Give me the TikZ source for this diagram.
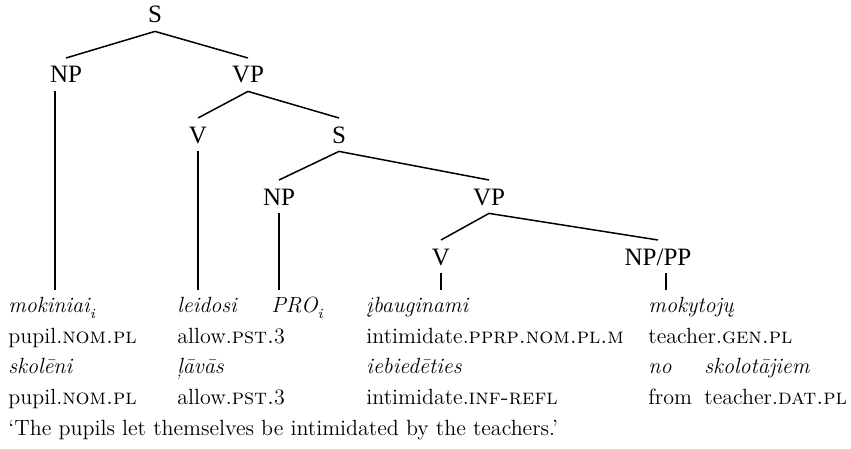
\documentclass[tikz,border=0pt]{standalone}
\usepackage{fontspec}
\newfontfamily\treefont{Liberation Serif}
\usetikzlibrary{positioning}

\newcommand{\coidx}{\raisebox{-3pt}{\fontsize{7}{8}\selectfont\itshape i}}

\begin{document}
\begin{tikzpicture}[
    x=0.5pt, y=-0.5pt,
    % Define styles
    cat/.style={anchor=base, font=\treefont\fontsize{12.5}{14}\selectfont, text height=8.3pt, text depth=0pt, inner sep=4pt},
    leaf/.style={anchor=base west, font=\fontsize{11}{13}\selectfont\itshape, text height=8pt, text depth=0pt, inner xsep=0pt, inner ysep=3pt},
    gloss/.style={anchor=base west, font=\fontsize{11}{13}\selectfont, inner sep=0pt},
    branch/.style={black, line width=0.75pt}
]
\useasboundingbox (0,0) rectangle (851,449);

% Tree nodes
\node[cat] (s1) at (155,23) {S};
\node[cat] (np1) at (66,83) {NP};
\node[cat] (vp1) at (248,83) {VP};
\node[cat] (v1) at (198,143) {V};
\node[cat] (s2) at (339,143) {S};
\node[cat] (np2) at (279,205) {NP};
\node[cat] (vp2) at (489,205) {VP};
\node[cat] (v2) at (441,265) {V};
\node[cat] (nppp) at (658,265) {NP/PP};

% Leaves (Lithuanian)
\node[leaf] (mok) at (8,312) {mokiniai\coidx};
\node[leaf] (lei) at (177,312) {leidosi};
\node[leaf] (pro) at (271,312) {PRO\coidx};
\node[leaf] (ibau) at (366,312) {įbauginami};
\node[leaf] (mokyt) at (648,312) {mokytojų};

% Glosses
\node[gloss] (g1a) at (8,343) {pupil.\textsc{nom.pl}};
\node[gloss] (g1b) at (177,343) {allow.\textsc{pst.}\oldstylenums{3}};
\node[gloss] (g1c) at (366,343) {intimidate.\textsc{pprp.nom.pl.m}};
\node[gloss] (g1d) at (648,343) {teacher.\textsc{gen.pl}};

% Latvian line
\node[gloss] (lv1) at (8,373) {\textit{skolēni}};
\node[gloss] (lv2) at (177,373) {\textit{ļāvās}};
\node[gloss] (lv3) at (366,373) {\textit{iebiedēties}};
\node[gloss] (lv4) at (648,373) {\textit{no}};
\node[gloss] (lv5) at (704,373) {\textit{skolotājiem}};

\node[gloss] (g2a) at (8,404) {pupil.\textsc{nom.pl}};
\node[gloss] (g2b) at (177,404) {allow.\textsc{pst.}\oldstylenums{3}};
\node[gloss] (g2c) at (366,404) {intimidate.\textsc{inf-refl}};
\node[gloss] (g2d) at (648,404) {from};
\node[gloss] (g2e) at (704,404) {teacher.\textsc{dat.pl}};

% Translation
\node[gloss] (trans) at (8,435) {‘The pupils let themselves be intimidated by the teachers.’};

% Branches
\draw[branch] (s1.south) -- (np1.north);
\draw[branch] (s1.south) -- (vp1.north);
\draw[branch] (vp1.south) -- (v1.north);
\draw[branch] (vp1.south) -- (s2.north);
\draw[branch] (s2.south) -- (np2.north);
\draw[branch] (s2.south) -- (vp2.north);
\draw[branch] (vp2.south) -- (v2.north);
\draw[branch] (vp2.south) -- (nppp.north);

% Lines down to the leaves
\draw[branch] ([xshift=-5.5pt]np1.south) -- ([xshift=-5.5pt]np1.south |- mok.north);
\draw[branch] (v1.south) -- (v1.south |- lei.north);
\draw[branch] (np2.south) -- (np2.south |- pro.north);
\draw[branch] (v2.south) -- (v2.south |- ibau.north);
\draw[branch] ([xshift=4pt]nppp.south) -- ([xshift=4pt]nppp.south |- mokyt.north);

\end{tikzpicture}
\end{document}
